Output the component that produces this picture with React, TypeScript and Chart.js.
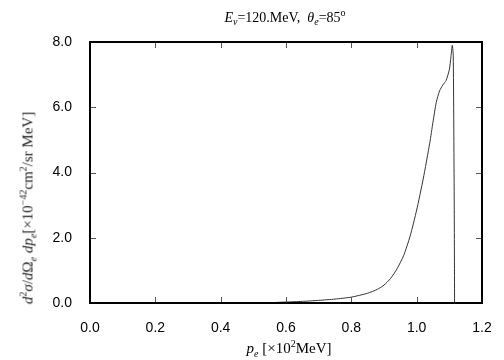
import React, { useEffect, useRef } from "react";
import { Chart, registerables } from "chart.js";

Chart.register(...registerables);

const momentum = [0.0, 0.5, 0.55, 0.6, 0.65, 0.7, 0.75, 0.8, 0.85, 0.88, 0.9, 0.92, 0.94, 0.96, 0.98, 1.0, 1.02, 1.04, 1.05, 1.06, 1.07, 1.08, 1.09, 1.1, 1.105, 1.109, 1.112, 1.115, 1.116];
const crossSection = [0.0, 0.0, 0.01, 0.03, 0.05, 0.08, 0.12, 0.18, 0.3, 0.42, 0.55, 0.75, 1.05, 1.45, 2.05, 2.85, 3.8, 4.9, 5.55, 6.15, 6.5, 6.68, 6.82, 7.15, 7.55, 7.9, 7.6, 3.0, 0.0];
const xTicks = [0, 0.2, 0.4, 0.6, 0.8, 1.0, 1.2];
const yTicks = [0, 2, 4, 6, 8];

const L = 90, R = 482, T = 42, B = 303;

const framePlugin = {
  id: "frame",
  afterDraw(chart: any) {
    const { ctx, chartArea: a, scales } = chart;
    ctx.save();
    ctx.strokeStyle = "#555";
    ctx.lineWidth = 1;
    const tl = 6;
    ctx.beginPath();
    for (const v of xTicks) {
      const px = Math.round(scales.x.getPixelForValue(v)) + 0.5;
      ctx.moveTo(px, a.bottom);
      ctx.lineTo(px, a.bottom - tl);
      ctx.moveTo(px, a.top);
      ctx.lineTo(px, a.top + tl);
    }
    for (const v of yTicks) {
      const py = Math.round(scales.y.getPixelForValue(v)) + 0.5;
      ctx.moveTo(a.left, py);
      ctx.lineTo(a.left + tl, py);
      ctx.moveTo(a.right, py);
      ctx.lineTo(a.right - tl, py);
    }
    ctx.stroke();
    ctx.strokeStyle = "#000";
    ctx.lineWidth = 2;
    ctx.strokeRect(a.left, a.top, a.right - a.left, a.bottom - a.top);
    ctx.restore();
  },
};

export default function App() {
  const ref = useRef<HTMLCanvasElement>(null);
  useEffect(() => {
    document.body.style.margin = "0";
    const chart = new Chart(ref.current!, {
      type: "line",
      data: {
        datasets: [
          {
            data: momentum.map((x, i) => ({ x, y: crossSection[i] })),
            borderColor: "#333",
            borderWidth: 1,
            pointRadius: 0,
            tension: 0.2,
            fill: false,
          },
        ],
      },
      options: {
        animation: false,
        responsive: false,
        maintainAspectRatio: false,
        layout: { padding: { left: 0, right: 504 - R, top: T, bottom: 0 } },
        plugins: { legend: { display: false }, tooltip: { enabled: false }, title: { display: false } },
        scales: {
          x: {
            type: "linear",
            min: 0,
            max: 1.2,
            afterBuildTicks: (s: any) => { s.ticks = xTicks.map((v) => ({ value: v })); },
            afterFit: (s: any) => { s.height = 360 - B; },
            grid: { display: false },
            border: { display: false },
            ticks: {
              color: "#000",
              padding: 9,
              font: { family: "'Liberation Sans', Arial, sans-serif", size: 14 },
              callback: (v: any) => Number(v).toFixed(1),
            },
          },
          y: {
            type: "linear",
            min: 0,
            max: 8,
            afterBuildTicks: (s: any) => { s.ticks = yTicks.map((v) => ({ value: v })); },
            afterFit: (s: any) => { s.width = L; },
            grid: { display: false },
            border: { display: false },
            ticks: {
              color: "#000",
              padding: 10,
              font: { family: "'Liberation Sans', Arial, sans-serif", size: 14 },
              callback: (v: any) => Number(v).toFixed(1),
            },
          },
        },
      },
      plugins: [framePlugin],
    });
    return () => chart.destroy();
  }, []);

  const serif = "'Liberation Serif', 'Times New Roman', serif";
  const s = { fontSize: 10 };
  return (
    <div style={{ position: "relative", width: 504, height: 360, background: "#fff", fontFamily: serif, color: "#000" }}>
      <canvas ref={ref} width={504} height={360} style={{ display: "block" }} />
      <div style={{ position: "absolute", left: 0, width: 570, top: 7, textAlign: "center", fontSize: 14, whiteSpace: "nowrap" }}>
        <i>E</i><sub style={s}><i>ν</i></sub>=120.MeV,&nbsp; <i>θ</i><sub style={s}><i>e</i></sub>=85<sup style={s}>o</sup>
      </div>
      <div style={{ position: "absolute", left: 0, width: 578, top: 338, textAlign: "center", fontSize: 15, whiteSpace: "nowrap" }}>
        <i>p</i><sub style={s}><i>e</i></sub> [×10<sup style={s}>2</sup>MeV]
      </div>
      <div
        style={{
          position: "absolute",
          left: 28,
          top: 208,
          transform: "translate(-50%, -50%) rotate(-90deg)",
          fontSize: 15,
          color: "#222",
          whiteSpace: "nowrap",
        }}
      >
        <i>d</i><sup style={s}>2</sup><i>σ</i>/<i>d</i>Ω<sub style={s}><i>e</i></sub> <i>dp</i><sub style={s}><i>e</i></sub>[×10<sup style={s}>−42</sup>cm<sup style={s}>2</sup>/sr MeV]
      </div>
    </div>
  );
}
